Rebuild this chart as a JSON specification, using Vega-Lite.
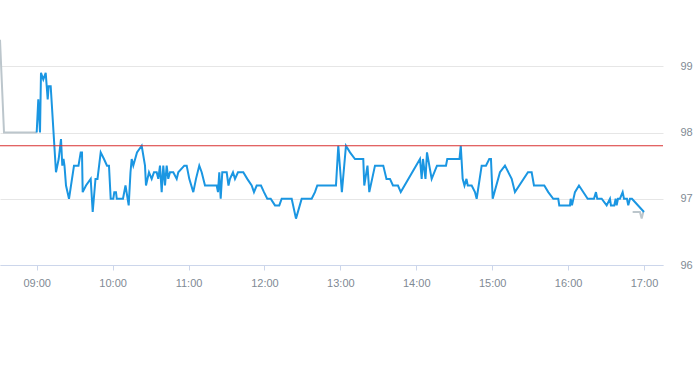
{
  "$schema": "https://vega.github.io/schema/vega-lite/v6.json",
  "width": 663,
  "height": 265,
  "autosize": "none",
  "padding": {"left": 0, "top": 0, "right": 30, "bottom": 100},
  "background": "#ffffff",
  "config": {"view": {"stroke": null}},
  "datasets": {
    "ref": [{"r": 97.8}],
    "px": [
    {"s":"prev","t":"2024-01-02T08:31:00","v":99.4},
    {"s":"prev","t":"2024-01-02T08:34:10","v":98.0},
    {"s":"prev","t":"2024-01-02T09:00:00","v":98.0},
    {"s":"prev2","t":"2024-01-02T16:51:01","v":96.8},
    {"s":"prev2","t":"2024-01-02T16:56:47","v":96.8},
    {"s":"prev2","t":"2024-01-02T16:58:08","v":96.7},
    {"s":"prev2","t":"2024-01-02T16:59:24","v":96.8},
    {"s":"cur","t":"2024-01-02T09:00:00","v":98.0},
    {"s":"cur","t":"2024-01-02T09:01:16","v":98.5},
    {"s":"cur","t":"2024-01-02T09:02:37","v":98.0},
    {"s":"cur","t":"2024-01-02T09:03:24","v":98.9},
    {"s":"cur","t":"2024-01-02T09:05:13","v":98.8},
    {"s":"cur","t":"2024-01-02T09:07:07","v":98.9},
    {"s":"cur","t":"2024-01-02T09:07:55","v":98.7},
    {"s":"cur","t":"2024-01-02T09:08:42","v":98.5},
    {"s":"cur","t":"2024-01-02T09:09:29","v":98.7},
    {"s":"cur","t":"2024-01-02T09:11:04","v":98.7},
    {"s":"cur","t":"2024-01-02T09:15:15","v":97.4},
    {"s":"cur","t":"2024-01-02T09:17:23","v":97.6},
    {"s":"cur","t":"2024-01-02T09:19:13","v":97.9},
    {"s":"cur","t":"2024-01-02T09:20:14","v":97.5},
    {"s":"cur","t":"2024-01-02T09:21:11","v":97.6},
    {"s":"cur","t":"2024-01-02T09:21:58","v":97.5},
    {"s":"cur","t":"2024-01-02T09:23:10","v":97.2},
    {"s":"cur","t":"2024-01-02T09:25:32","v":97.0},
    {"s":"cur","t":"2024-01-02T09:29:29","v":97.5},
    {"s":"cur","t":"2024-01-02T09:33:02","v":97.5},
    {"s":"cur","t":"2024-01-02T09:34:47","v":97.7},
    {"s":"cur","t":"2024-01-02T09:35:48","v":97.7},
    {"s":"cur","t":"2024-01-02T09:36:21","v":97.1},
    {"s":"cur","t":"2024-01-02T09:38:58","v":97.2},
    {"s":"cur","t":"2024-01-02T09:42:41","v":97.3},
    {"s":"cur","t":"2024-01-02T09:44:16","v":96.8},
    {"s":"cur","t":"2024-01-02T09:46:28","v":97.3},
    {"s":"cur","t":"2024-01-02T09:48:03","v":97.3},
    {"s":"cur","t":"2024-01-02T09:50:35","v":97.7},
    {"s":"cur","t":"2024-01-02T09:53:11","v":97.6},
    {"s":"cur","t":"2024-01-02T09:55:34","v":97.5},
    {"s":"cur","t":"2024-01-02T09:57:08","v":97.5},
    {"s":"cur","t":"2024-01-02T09:58:29","v":97.0},
    {"s":"cur","t":"2024-01-02T10:00:32","v":97.0},
    {"s":"cur","t":"2024-01-02T10:01:20","v":97.1},
    {"s":"cur","t":"2024-01-02T10:02:40","v":97.1},
    {"s":"cur","t":"2024-01-02T10:03:18","v":97.0},
    {"s":"cur","t":"2024-01-02T10:08:12","v":97.0},
    {"s":"cur","t":"2024-01-02T10:10:11","v":97.2},
    {"s":"cur","t":"2024-01-02T10:12:43","v":96.9},
    {"s":"cur","t":"2024-01-02T10:14:08","v":97.4},
    {"s":"cur","t":"2024-01-02T10:15:05","v":97.6},
    {"s":"cur","t":"2024-01-02T10:16:21","v":97.5},
    {"s":"cur","t":"2024-01-02T10:19:16","v":97.7},
    {"s":"cur","t":"2024-01-02T10:22:59","v":97.8},
    {"s":"cur","t":"2024-01-02T10:25:36","v":97.5},
    {"s":"cur","t":"2024-01-02T10:26:23","v":97.2},
    {"s":"cur","t":"2024-01-02T10:28:45","v":97.4},
    {"s":"cur","t":"2024-01-02T10:30:53","v":97.3},
    {"s":"cur","t":"2024-01-02T10:32:42","v":97.4},
    {"s":"cur","t":"2024-01-02T10:34:51","v":97.4},
    {"s":"cur","t":"2024-01-02T10:36:06","v":97.3},
    {"s":"cur","t":"2024-01-02T10:37:27","v":97.5},
    {"s":"cur","t":"2024-01-02T10:38:47","v":97.1},
    {"s":"cur","t":"2024-01-02T10:40:03","v":97.5},
    {"s":"cur","t":"2024-01-02T10:41:24","v":97.2},
    {"s":"cur","t":"2024-01-02T10:42:44","v":97.5},
    {"s":"cur","t":"2024-01-02T10:44:00","v":97.3},
    {"s":"cur","t":"2024-01-02T10:45:21","v":97.4},
    {"s":"cur","t":"2024-01-02T10:47:57","v":97.4},
    {"s":"cur","t":"2024-01-02T10:50:39","v":97.3},
    {"s":"cur","t":"2024-01-02T10:51:55","v":97.4},
    {"s":"cur","t":"2024-01-02T10:56:39","v":97.5},
    {"s":"cur","t":"2024-01-02T10:58:33","v":97.5},
    {"s":"cur","t":"2024-01-02T11:00:36","v":97.3},
    {"s":"cur","t":"2024-01-02T11:03:46","v":97.1},
    {"s":"cur","t":"2024-01-02T11:05:54","v":97.3},
    {"s":"cur","t":"2024-01-02T11:08:30","v":97.5},
    {"s":"cur","t":"2024-01-02T11:10:24","v":97.4},
    {"s":"cur","t":"2024-01-02T11:13:01","v":97.2},
    {"s":"cur","t":"2024-01-02T11:22:16","v":97.2},
    {"s":"cur","t":"2024-01-02T11:23:17","v":97.1},
    {"s":"cur","t":"2024-01-02T11:24:19","v":97.4},
    {"s":"cur","t":"2024-01-02T11:25:25","v":97.0},
    {"s":"cur","t":"2024-01-02T11:26:41","v":97.4},
    {"s":"cur","t":"2024-01-02T11:30:10","v":97.4},
    {"s":"cur","t":"2024-01-02T11:31:35","v":97.2},
    {"s":"cur","t":"2024-01-02T11:32:46","v":97.3},
    {"s":"cur","t":"2024-01-02T11:35:08","v":97.4},
    {"s":"cur","t":"2024-01-02T11:36:43","v":97.3},
    {"s":"cur","t":"2024-01-02T11:39:05","v":97.4},
    {"s":"cur","t":"2024-01-02T11:43:17","v":97.4},
    {"s":"cur","t":"2024-01-02T11:46:26","v":97.3},
    {"s":"cur","t":"2024-01-02T11:49:55","v":97.2},
    {"s":"cur","t":"2024-01-02T11:51:44","v":97.1},
    {"s":"cur","t":"2024-01-02T11:53:52","v":97.2},
    {"s":"cur","t":"2024-01-02T11:57:16","v":97.2},
    {"s":"cur","t":"2024-01-02T11:59:38","v":97.1},
    {"s":"cur","t":"2024-01-02T12:02:15","v":97.0},
    {"s":"cur","t":"2024-01-02T12:04:56","v":97.0},
    {"s":"cur","t":"2024-01-02T12:08:20","v":96.9},
    {"s":"cur","t":"2024-01-02T12:11:44","v":96.9},
    {"s":"cur","t":"2024-01-02T12:13:38","v":97.0},
    {"s":"cur","t":"2024-01-02T12:21:32","v":97.0},
    {"s":"cur","t":"2024-01-02T12:24:56","v":96.7},
    {"s":"cur","t":"2024-01-02T12:29:26","v":97.0},
    {"s":"cur","t":"2024-01-02T12:37:20","v":97.0},
    {"s":"cur","t":"2024-01-02T12:39:56","v":97.1},
    {"s":"cur","t":"2024-01-02T12:41:46","v":97.2},
    {"s":"cur","t":"2024-01-02T12:56:32","v":97.2},
    {"s":"cur","t":"2024-01-02T12:58:22","v":97.8},
    {"s":"cur","t":"2024-01-02T13:01:12","v":97.1},
    {"s":"cur","t":"2024-01-02T13:04:26","v":97.8},
    {"s":"cur","t":"2024-01-02T13:07:37","v":97.7},
    {"s":"cur","t":"2024-01-02T13:11:34","v":97.6},
    {"s":"cur","t":"2024-01-02T13:18:07","v":97.6},
    {"s":"cur","t":"2024-01-02T13:18:54","v":97.2},
    {"s":"cur","t":"2024-01-02T13:21:26","v":97.5},
    {"s":"cur","t":"2024-01-02T13:22:52","v":97.1},
    {"s":"cur","t":"2024-01-02T13:27:22","v":97.5},
    {"s":"cur","t":"2024-01-02T13:33:55","v":97.5},
    {"s":"cur","t":"2024-01-02T13:36:27","v":97.3},
    {"s":"cur","t":"2024-01-02T13:39:13","v":97.3},
    {"s":"cur","t":"2024-01-02T13:41:35","v":97.2},
    {"s":"cur","t":"2024-01-02T13:45:32","v":97.2},
    {"s":"cur","t":"2024-01-02T13:47:45","v":97.1},
    {"s":"cur","t":"2024-01-02T14:02:56","v":97.6},
    {"s":"cur","t":"2024-01-02T14:04:16","v":97.3},
    {"s":"cur","t":"2024-01-02T14:05:18","v":97.6},
    {"s":"cur","t":"2024-01-02T14:07:17","v":97.3},
    {"s":"cur","t":"2024-01-02T14:08:28","v":97.7},
    {"s":"cur","t":"2024-01-02T14:12:10","v":97.3},
    {"s":"cur","t":"2024-01-02T14:16:22","v":97.5},
    {"s":"cur","t":"2024-01-02T14:23:28","v":97.5},
    {"s":"cur","t":"2024-01-02T14:24:30","v":97.6},
    {"s":"cur","t":"2024-01-02T14:34:08","v":97.6},
    {"s":"cur","t":"2024-01-02T14:35:10","v":97.8},
    {"s":"cur","t":"2024-01-02T14:36:40","v":97.3},
    {"s":"cur","t":"2024-01-02T14:38:05","v":97.2},
    {"s":"cur","t":"2024-01-02T14:39:40","v":97.3},
    {"s":"cur","t":"2024-01-02T14:40:42","v":97.2},
    {"s":"cur","t":"2024-01-02T14:43:47","v":97.2},
    {"s":"cur","t":"2024-01-02T14:46:23","v":97.1},
    {"s":"cur","t":"2024-01-02T14:47:44","v":97.0},
    {"s":"cur","t":"2024-01-02T14:51:41","v":97.5},
    {"s":"cur","t":"2024-01-02T14:55:05","v":97.5},
    {"s":"cur","t":"2024-01-02T14:57:41","v":97.6},
    {"s":"cur","t":"2024-01-02T14:59:02","v":97.6},
    {"s":"cur","t":"2024-01-02T15:00:23","v":97.0},
    {"s":"cur","t":"2024-01-02T15:06:09","v":97.4},
    {"s":"cur","t":"2024-01-02T15:10:06","v":97.5},
    {"s":"cur","t":"2024-01-02T15:15:24","v":97.3},
    {"s":"cur","t":"2024-01-02T15:18:00","v":97.1},
    {"s":"cur","t":"2024-01-02T15:28:17","v":97.4},
    {"s":"cur","t":"2024-01-02T15:31:12","v":97.4},
    {"s":"cur","t":"2024-01-02T15:33:01","v":97.2},
    {"s":"cur","t":"2024-01-02T15:41:10","v":97.2},
    {"s":"cur","t":"2024-01-02T15:44:19","v":97.1},
    {"s":"cur","t":"2024-01-02T15:48:16","v":97.0},
    {"s":"cur","t":"2024-01-02T15:52:13","v":97.0},
    {"s":"cur","t":"2024-01-02T15:53:01","v":96.9},
    {"s":"cur","t":"2024-01-02T16:01:28","v":96.9},
    {"s":"cur","t":"2024-01-02T16:02:01","v":97.0},
    {"s":"cur","t":"2024-01-02T16:03:03","v":96.9},
    {"s":"cur","t":"2024-01-02T16:05:25","v":97.1},
    {"s":"cur","t":"2024-01-02T16:08:35","v":97.2},
    {"s":"cur","t":"2024-01-02T16:15:28","v":97.0},
    {"s":"cur","t":"2024-01-02T16:20:26","v":97.0},
    {"s":"cur","t":"2024-01-02T16:22:01","v":97.1},
    {"s":"cur","t":"2024-01-02T16:23:02","v":97.0},
    {"s":"cur","t":"2024-01-02T16:26:31","v":97.0},
    {"s":"cur","t":"2024-01-02T16:30:28","v":96.9},
    {"s":"cur","t":"2024-01-02T16:33:05","v":97.0},
    {"s":"cur","t":"2024-01-02T16:33:52","v":96.9},
    {"s":"cur","t":"2024-01-02T16:36:29","v":96.9},
    {"s":"cur","t":"2024-01-02T16:37:35","v":97.0},
    {"s":"cur","t":"2024-01-02T16:38:22","v":96.9},
    {"s":"cur","t":"2024-01-02T16:39:25","v":97.0},
    {"s":"cur","t":"2024-01-02T16:40:59","v":97.0},
    {"s":"cur","t":"2024-01-02T16:43:07","v":97.1},
    {"s":"cur","t":"2024-01-02T16:44:09","v":97.0},
    {"s":"cur","t":"2024-01-02T16:46:31","v":97.0},
    {"s":"cur","t":"2024-01-02T16:47:33","v":96.9},
    {"s":"cur","t":"2024-01-02T16:48:53","v":97.0},
    {"s":"cur","t":"2024-01-02T16:50:28","v":97.0},
    {"s":"cur","t":"2024-01-02T17:00:00","v":96.8}
  ]},
  "layer": [
    {
      "data": {"name": "px"},
      "mark": {"type": "line", "strokeWidth": 2, "clip": true},
      "encoding": {
        "x": {
          "field": "t", "type": "temporal",
          "scale": {"domain": ["2024-01-02T08:31:00", "2024-01-02T17:15:00"]},
          "axis": {
            "title": null, "format": "%H:%M",
            "values": ["2024-01-02T09:00:00", "2024-01-02T10:00:00", "2024-01-02T11:00:00", "2024-01-02T12:00:00", "2024-01-02T13:00:00", "2024-01-02T14:00:00", "2024-01-02T15:00:00", "2024-01-02T16:00:00", "2024-01-02T17:00:00"],
            "grid": false, "domainColor": "#ccd6eb",
            "tickColor": "#ccd6eb", "tickSize": 5,
            "labelColor": "#7f8a94", "labelFontSize": 11, "labelPadding": 7,
            "labelFont": "Liberation Sans"
          }
        },
        "y": {
          "field": "v", "type": "quantitative",
          "scale": {"domain": [96, 100], "nice": false, "zero": false},
          "axis": {
            "title": null, "orient": "right", "values": [96, 97, 98, 99],
            "grid": true, "gridColor": "#e6e6e6",
            "domain": false, "ticks": false,
            "labelColor": "#7f8a94", "labelFontSize": 11, "labelPadding": 17,
            "labelFont": "Liberation Sans"
          }
        },
        "color": {
          "field": "s", "type": "nominal",
          "scale": {"domain": ["prev", "prev2", "cur"], "range": ["#bcc6cc", "#bcc6cc", "#1a96e2"]},
          "legend": null
        }
      }
    },
    {
      "data": {"name": "ref"},
      "mark": {"type": "rule", "color": "#d93030", "strokeWidth": 1},
      "encoding": {"y": {"field": "r", "type": "quantitative"}}
    }
  ]
}
